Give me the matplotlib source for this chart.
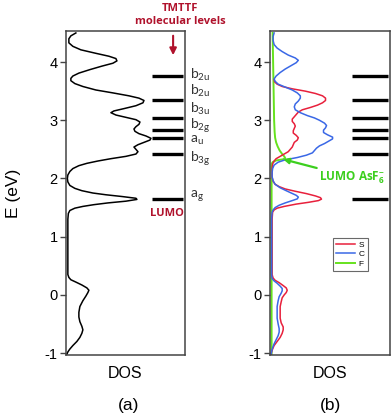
import matplotlib
matplotlib.use('Agg')
import matplotlib.pyplot as plt

plt.rcParams['font.family'] = ['Liberation Sans', 'DejaVu Sans']

# panel (a): total DOS, energy (eV) vs DOS (arb. units)
E_a = [4.50, 4.45, 4.40, 4.33, 4.27, 4.21, 4.15, 4.10, 4.06, 4.02, 3.98, 3.93,
       3.87, 3.81, 3.76, 3.72, 3.68, 3.63, 3.58, 3.52, 3.47, 3.42, 3.38, 3.34,
       3.30, 3.25, 3.20, 3.16, 3.13, 3.09, 3.05, 3.01, 2.97, 2.93, 2.89, 2.85,
       2.81, 2.77, 2.73, 2.69, 2.66, 2.62, 2.58, 2.54, 2.50, 2.46, 2.42, 2.38,
       2.34, 2.30, 2.26, 2.22, 2.17, 2.12, 2.06, 2.00, 1.94, 1.88, 1.83, 1.79,
       1.75, 1.72, 1.69, 1.66, 1.64, 1.61, 1.58, 1.55, 1.52, 1.49, 1.45, 1.40,
       1.30, 1.00, 0.60, 0.35, 0.30, 0.26, 0.22, 0.17, 0.12, 0.08, 0.04, -0.02,
       -0.10, -0.20, -0.30, -0.38, -0.46, -0.54, -0.60, -0.66, -0.73, -0.80,
       -0.87, -0.93, -0.98, -1.02]
dos_a = [10, 5, 3, 3, 7, 15, 30, 43, 50, 51, 47, 36,
         24, 13, 7, 5, 5, 9, 17, 30, 47, 63, 73, 78,
         77, 70, 58, 48, 45, 50, 60, 70, 74, 73, 70, 68,
         69, 73, 80, 85, 84, 78, 72, 68, 70, 72, 70, 60,
         45, 32, 21, 13, 7, 4, 2, 1.5, 2, 4, 9, 16,
         27, 40, 56, 70, 71, 60, 42, 28, 17, 9, 4, 2.5,
         2, 2, 2, 2, 3, 5, 10, 16, 21, 23, 22, 20,
         17, 14, 13, 13, 14, 16, 17, 16, 14, 11,
         7, 4, 2, 1]

# panel (b): projected DOS
E_C = [4.50, 4.44, 4.37, 4.30, 4.24, 4.18, 4.12, 4.07, 4.03, 3.99, 3.94, 3.88,
       3.82, 3.76, 3.71, 3.67, 3.62, 3.57, 3.52, 3.47, 3.42, 3.38, 3.33, 3.28,
       3.23, 3.18, 3.13, 3.08, 3.04, 3.00, 2.95, 2.91, 2.87, 2.83, 2.79, 2.75,
       2.71, 2.68, 2.64, 2.60, 2.56, 2.52, 2.48, 2.44, 2.40, 2.36, 2.32, 2.28,
       2.23, 2.17, 2.10, 2.03, 1.96, 1.90, 1.84, 1.79, 1.75, 1.71, 1.68, 1.65,
       1.62, 1.58, 1.54, 1.50, 1.46, 1.42, 1.30, 0.35, 0.28, 0.24, 0.20, 0.15,
       0.11, 0.07, 0.03, -0.03, -0.10, -0.20, -0.30, -0.40, -0.50, -0.58, -0.64,
       -0.70, -0.77, -0.84, -0.91, -0.97, -1.02]
dos_C = [4, 3, 3, 4, 7, 12, 18, 25, 28, 26, 21, 15,
         10, 6, 4, 5, 8, 15, 22, 27, 30, 30, 28, 25,
         24, 25, 30, 37, 44, 49, 54, 56, 55, 53, 53, 57,
         62, 62, 58, 54, 49, 46, 44, 42, 36, 27, 15, 8,
         4, 2.5, 2, 2, 3, 5, 10, 16, 21, 26, 28, 27,
         22, 15, 9, 5, 3, 2, 1.5, 1.5, 2, 4, 7, 10,
         12, 12, 11, 9, 8, 7, 7, 7, 8, 9, 9,
         8, 6, 4, 2.5, 1.5, 1]

E_S = [3.70, 3.66, 3.62, 3.58, 3.54, 3.50, 3.46, 3.42, 3.38, 3.34, 3.30, 3.26,
       3.22, 3.18, 3.14, 3.10, 3.06, 3.02, 2.98, 2.94, 2.90, 2.86, 2.82, 2.78,
       2.74, 2.70, 2.66, 2.62, 2.58, 2.54, 2.50, 2.46, 2.42, 2.38, 2.34, 2.30,
       2.25, 2.18, 2.10, 2.02, 1.95, 1.90, 1.86, 1.82, 1.78, 1.74, 1.70, 1.67,
       1.645, 1.62, 1.59, 1.56, 1.52, 1.49, 1.46, 1.42, 1.30, 0.35, 0.29, 0.25,
       0.21, 0.16, 0.12, 0.08, 0.04, 0.00, -0.05, -0.12, -0.20, -0.30, -0.40,
       -0.48, -0.55, -0.60, -0.66, -0.73, -0.80, -0.87, -0.93, -0.98, -1.02]
dos_S = [4, 4.5, 7, 12, 22, 35, 45, 52, 55, 55, 52, 47,
         40, 32, 28, 26, 24, 22, 22, 24, 25, 24, 23, 23,
         26, 28, 27, 24, 23, 22, 20, 18, 14, 10, 6, 4,
         2.5, 2, 2, 2, 3, 5, 9, 15, 25, 36, 45, 50,
         51, 48, 38, 26, 14, 7, 4, 2.5, 2, 2, 3, 5,
         9, 13, 16, 17, 16, 14, 12, 11, 10, 10, 10,
         11, 13, 13, 12, 10, 7, 4, 2.5, 1.5, 1]

E_F = [4.50, 4.00, 3.50, 3.00, 2.80, 2.70, 2.62, 2.55, 2.48, 2.42, 2.38, 2.35,
       2.33, 2.31, 2.28, 2.25, 2.00, 1.00, 0.00, -1.02]
dos_F = [2.5, 3, 3.5, 4, 4.5, 5, 6, 7.5, 9.5, 12, 14, 15,
         13, 6, 2.5, 1.5, 1.5, 1.5, 1.5, 1.5]

# TMTTF molecular levels (eV)
levels = [3.76, 3.34, 3.04, 2.83, 2.69, 2.42, 1.65]
level_labels = ['b$\\mathregular{_{2u}}$', 'b$\\mathregular{_{2u}}$', 'b$\\mathregular{_{3u}}$',
                'b$\\mathregular{_{2g}}$', 'a$\\mathregular{_{u}}$', 'b$\\mathregular{_{3g}}$',
                'a$\\mathregular{_{g}}$']
label_E = [3.77, 3.51, 3.20, 2.91, 2.65, 2.34, 1.70]

yticks = [-1, 0, 1, 2, 3, 4]

red_dark = '#b0122c'
green_txt = '#3ccf1e'

fig = plt.figure(figsize=(3.92, 4.16), dpi=100)
ax1 = fig.add_axes([0.168, 0.147, 0.304, 0.778])
ax2 = fig.add_axes([0.689, 0.147, 0.306, 0.778])

for ax in (ax1, ax2):
    ax.set_ylim(-1.03, 4.53)
    ax.set_xlim(0, 119)
    ax.set_yticks(yticks)
    ax.set_yticklabels([str(t) for t in yticks])
    ax.set_xticks([])
    ax.tick_params(axis='y', direction='out', length=4, width=1, labelsize=10.5,
                   color='#444444', pad=2)
    for s in ax.spines.values():
        s.set_color('#444444')
        s.set_linewidth(1.1)
    ax.set_xlabel('DOS', fontsize=11.5, labelpad=8)
    for e in levels:
        ax.axhline(e, xmin=0.72 if ax is ax1 else 0.68, xmax=0.98,
                   color='black', lw=2.4, solid_capstyle='butt')

ax1.plot(dos_a, E_a, color='black', lw=1.1)
ax1.set_ylabel('E (eV)', fontsize=12.5, labelpad=17)

for lab, e in zip(level_labels, label_E):
    ax1.text(1.04, e, lab, transform=ax1.get_yaxis_transform(), fontsize=10,
             family='Lato', color='#333333', va='center', ha='left')

ax1.text(0.96, 4.81, 'TMTTF\nmolecular levels', transform=ax1.get_yaxis_transform(),
         ha='center', va='center', fontsize=8, fontweight='bold', color=red_dark,
         family='Open Sans', linespacing=1.35, clip_on=False)
ax1.annotate('', xy=(0.9, 4.07), xytext=(0.9, 4.5),
             xycoords=ax1.get_yaxis_transform(), textcoords=ax1.get_yaxis_transform(),
             arrowprops=dict(arrowstyle='-|>', color=red_dark, lw=1.5, mutation_scale=10))
ax1.text(0.85, 1.40, 'LUMO', transform=ax1.get_yaxis_transform(), ha='center',
         va='center', fontsize=8, fontweight='bold', color=red_dark, family='Open Sans')

ax2.plot(dos_F, E_F, color='#66e21e', lw=1.4, label='F')
ax2.plot(dos_S, E_S, color='#e8203c', lw=1.1, label='S')
ax2.plot(dos_C, E_C, color='#3a68e6', lw=1.1, label='C')
handles, labels = ax2.get_legend_handles_labels()
order = [1, 2, 0]
leg = ax2.legend([handles[i] for i in order], [labels[i] for i in order],
                 loc='upper left', bbox_to_anchor=(0.49, 0.375), fontsize=6,
                 frameon=True, fancybox=False, handlelength=2.2, borderpad=0.4,
                 labelspacing=0.2, handletextpad=0.5)
leg.get_frame().set_edgecolor('#444444')
leg.get_frame().set_linewidth(0.8)

ax2.annotate('LUMO AsF$\\mathregular{_6^{-}}$', xy=(13, 2.33), xytext=(49, 2.02),
             fontsize=8.5, fontweight='bold', color=green_txt, family='Open Sans',
             va='center', ha='left',
             arrowprops=dict(arrowstyle='-|>', color=green_txt, lw=1.6,
                             mutation_scale=8, shrinkA=0, shrinkB=0))

fig.text(0.327, 0.026, '(a)', ha='center', va='center', fontsize=12.5)
fig.text(0.842, 0.026, '(b)', ha='center', va='center', fontsize=12.5)

fig.savefig('out.png', dpi=100)
